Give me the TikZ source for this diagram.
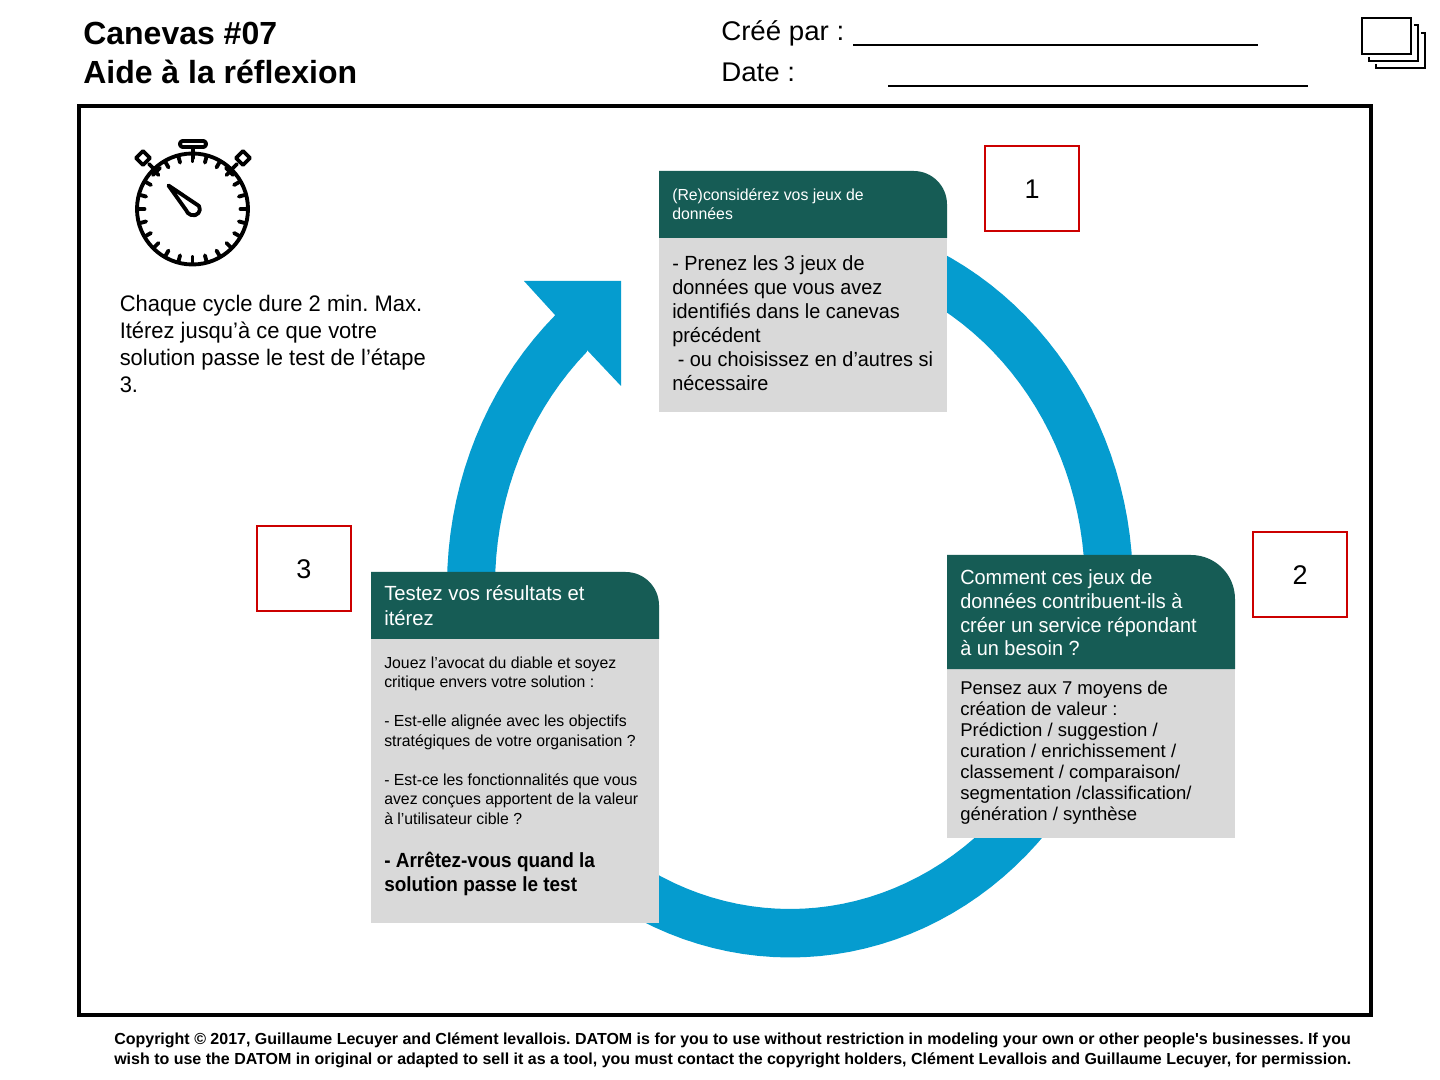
\documentclass[tikz,border=0pt]{standalone}
\usepackage{fontspec}
\setmainfont{Liberation Sans}
\newfontfamily\fplain{Liberation Sans}
\newfontfamily\fcyc[FakeStretch=0.975]{Liberation Sans}
\newfontfamily\fone[FakeStretch=0.97]{Liberation Sans}
\newfontfamily\fhd[FakeStretch=0.988]{Liberation Sans}
\newfontfamily\fbd[FakeStretch=0.925]{Liberation Sans}
\newfontfamily\fcree[FakeStretch=1.025]{Liberation Sans}
\definecolor{ringblue}{HTML}{059CCF}
\definecolor{headgreen}{HTML}{165C55}
\definecolor{bodygrey}{HTML}{D9D9D9}
\definecolor{redbox}{HTML}{CC0000}
\newcommand{\fsz}[2]{\fontsize{#1pt}{#2pt}\selectfont}
\tikzset{
  txt/.style={anchor=base west,inner sep=0pt,align=left,text=black},
  hdtxt/.style={txt,text=white},
  numbox/.style={draw=redbox,line width=1.5pt,minimum width=70.5pt,minimum height=63.75pt,inner sep=0pt,font=\fsz{20.25}{24}},
  headfill/.style={fill=headgreen},
  bodyfill/.style={fill=bodygrey},
  ic/.style={line width=2.9pt,line cap=round,line join=round,draw=black},
}
\begin{document}
\frenchspacing
\begin{tikzpicture}[x=0.75pt,y=-0.75pt]
\useasboundingbox (0,0) rectangle (1440,1080);
\fill[white] (0,0) rectangle (1440,1080);

% frame
\draw[line width=2.7pt] (79,106) rectangle (1371,1015);

% ring with arrow
\fill[ringblue]
  plot[domain=280:586.8,samples=120] ({790+343*cos(\x)},{586+371.5*sin(\x)})
  -- (524,281) -- (621,281) -- (621,386) -- (587,350)
  -- plot[domain=586.5:280,samples=120] ({790+295*cos(\x)},{586+323*sin(\x)})
  -- cycle;

% box 1
\fill[bodyfill] (659,238) rectangle (947,412.5);
\fill[headfill] (659,171) [rounded corners=25pt] -- (947,171) [sharp corners] -- (947,238) -- (659,238) -- cycle;
\node[hdtxt,font=\fhd\fsz{12}{14.6}] (h1) at (672,220) {(Re)considérez vos jeux de\\données};
\node[txt,font=\fone\fsz{15.375}{18}] (b1) at (672,391) {- Prenez les 3 jeux de\\données que vous avez\\identifiés dans le canevas\\précédent\\\ - ou choisissez en d’autres si\\nécessaire};

% box 2
\fill[bodyfill] (947,669) rectangle (1235,838);
\fill[headfill] (947,555) [rounded corners=33pt] -- (1235,555) [sharp corners] -- (1235,669) -- (947,669) -- cycle;
\node[hdtxt,font=\fone\fsz{15.375}{18}] (h2) at (960,656) {Comment ces jeux de\\données contribuent-ils à\\créer un service répondant\\à un besoin ?};
\node[txt,font=\fplain\fsz{13.875}{15.75}] (b2) at (960,820) {Pensez aux 7 moyens de\\création de valeur :\\Prédiction / suggestion /\\curation / enrichissement /\\classement / comparaison/\\segmentation /classification/\\génération / synthèse};

% box 3
\fill[bodyfill] (371,639) rectangle (659,923);
\fill[headfill] (371,572) [rounded corners=25pt] -- (659,572) [sharp corners] -- (659,639) -- (371,639) -- cycle;
\node[hdtxt,font=\fhd\fsz{15.375}{18}] (h3) at (384,625) {Testez vos résultats et\\itérez};
\node[txt,font=\fhd\fsz{12}{14.6}] (b3) at (384,824) {Jouez l’avocat du diable et soyez\\critique envers votre solution :\\[14.6pt]- Est-elle alignée avec les objectifs\\stratégiques de votre organisation ?\\[14.6pt]- Est-ce les fonctionnalités que vous\\avez conçues apportent de la valeur\\à l’utilisateur cible ?};
\node[txt,font=\fbd\bfseries\fsz{15.375}{18}] (b3b) at (384,891) {- Arrêtez-vous quand la\\solution passe le test};

% number boxes
\node[numbox] (n1) at (1032,189) {1};
\node[numbox] (n2) at (1300,575) {2};
\node[numbox] (n3) at (304,569) {3};

% header
\node[txt,font=\fplain\bfseries\fsz{24}{29.25}] (title) at (83,84) {Canevas \#07\\Aide à la réflexion};
\node[txt,font=\fcree\fsz{20.25}{24}] (cree) at (721,41) {Créé par :};
\node[txt,font=\fcree\fsz{20.25}{24}] (date) at (721,82) {Date :};
\coordinate (l1a) at (853,45); \coordinate (l1b) at (1258,45);
\coordinate (l2a) at (888,86.5); \coordinate (l2b) at (1308,86.5);
\draw[line width=1.5pt] (l1a) -- (l1b);
\draw[line width=1.5pt] (l2a) -- (l2b);

% left text
\node[txt,font=\fcyc\fsz{16.875}{20.25}] (cycle) at (119.5,393) {Chaque cycle dure 2 min. Max.\\Itérez jusqu’à ce que votre\\solution passe le test de l’étape\\3.};

% copyright
\node[txt,font=\fplain\bfseries\fsz{12}{15}] (copy) at (114,1064) {Copyright © 2017, Guillaume Lecuyer and Clément levallois. DATOM is for you to use without restriction in modeling your own or other people's businesses. If you\\wish to use the DATOM in original or adapted to sell it as a tool, you must contact the copyright holders, Clément Levallois and Guillaume Lecuyer, for permission.};

% stopwatch
\draw[ic] (192.5,209) ellipse (55.5 and 55.5);
\foreach \a in {0,15,...,345} {
  \draw[ic] ({192.5+55*cos(\a)},{209+55*sin(\a)}) -- ({192.5+48*cos(\a)},{209+48*sin(\a)});
}
\draw[ic,rounded corners=2pt] (193,147) -- (180,147) -- (180,141) -- (206,141) -- (206,147) -- cycle;
\draw[ic] (193,147) -- (193,158);
\draw[ic] (143,151) -- (150,158) -- (143,165) -- (136,158) -- cycle;
\draw[ic] (243,151) -- (250,158) -- (243,165) -- (236,158) -- cycle;
\draw[ic] (149,164) -- (157,172);
\draw[ic] (237,164) -- (229,172);
\draw[ic] (153,175) -- (160,168);
\draw[ic] (233,175) -- (226,168);
\draw[ic,fill=white] (168.5,185.5) -- (199,206)
  .. controls (202,211) and (197,217) .. (191,215)
  .. controls (188,214) and (187,212) .. (186,210) -- cycle;

% layers icon
\draw[line width=2.2pt] (1362,18) rectangle (1411,54);
\draw[line width=2.2pt] (1369,57) -- (1369,61) -- (1418,61) -- (1418,25) -- (1414,25);
\draw[line width=2.2pt] (1376,64) -- (1376,68) -- (1425,68) -- (1425,33) -- (1421,33);
\end{tikzpicture}
\end{document}
